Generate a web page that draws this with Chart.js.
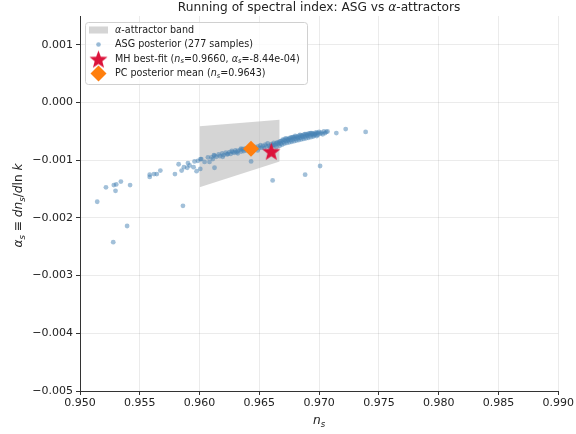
<!DOCTYPE html>
<html>
<head>
<meta charset="utf-8">
<script src="https://cdn.jsdelivr.net/npm/chart.js@4.4.1/dist/chart.umd.min.js"></script>
<style>
  html, body { margin: 0; padding: 0; background: #fff; }
  #wrap { width: 576px; height: 434px; }
</style>
</head>
<body>
<div id="wrap"><canvas id="myChart" width="576" height="434"></canvas></div>
<script>
// ---- data ----
// ASG posterior samples: [n_s, alpha_s]
const asgSamples = [
  [0.95144,-0.00172],[0.95217,-0.00147],[0.95278,-0.00242],[0.95283,-0.00143],[0.95303,-0.00142],
  [0.95297,-0.00153],[0.95342,-0.00137],[0.95394,-0.00214],[0.95419,-0.00143],[0.95583,-0.00125],
  [0.95583,-0.00129],[0.95619,-0.00124],[0.95642,-0.00124],[0.95672,-0.00118],[0.95794,-0.00124],
  [0.95825,-0.00107],[0.95861,-0.00179],[0.95850,-0.00118],[0.95869,-0.00112],[0.95897,-0.00113],
  [0.95903,-0.00105],[0.95917,-0.00109],[0.95950,-0.00112],[0.95958,-0.00102],[0.95975,-0.00119],
  [0.95986,-0.00101],[0.96006,-0.00115],[0.96008,-0.00098],[0.96014,-0.00098],[0.96042,-0.00103],
  [0.96070,-0.00095],[0.96083,-0.00103],[0.96111,-0.00098],[0.96125,-0.00113],[0.96125,-0.00092],
  [0.96194,-0.00094],[0.96236,-0.00089],[0.96278,-0.00086],[0.96319,-0.00084],[0.96347,-0.00080],
  [0.96431,-0.00102],[0.96486,-0.00083],[0.96611,-0.00135],[0.96883,-0.00125],[0.97008,-0.00110],
  [0.97144,-0.00053],[0.97222,-0.00046],[0.97389,-0.00051],
  [0.9610,-0.00095],[0.9612,-0.00091],[0.9614,-0.00094],[0.9616,-0.00090],[0.9617,-0.00093],
  [0.9619,-0.00088],[0.9620,-0.00091],[0.9622,-0.00087],[0.9623,-0.00090],[0.9625,-0.00086],
  [0.9626,-0.00089],[0.9627,-0.00084],[0.9629,-0.00087],[0.9630,-0.00083],[0.9631,-0.00086],
  [0.9632,-0.00088],[0.9634,-0.00082],[0.9635,-0.00085],[0.9636,-0.00081],[0.9637,-0.00084],
  [0.9638,-0.00080],[0.9639,-0.00083],[0.9641,-0.00079],[0.9642,-0.00082],[0.9644,-0.00078],
  [0.9645,-0.00081],[0.9646,-0.00077],[0.9647,-0.00080],[0.9649,-0.00076],[0.9650,-0.00079],
  [0.9651,-0.00074],[0.9652,-0.00078],[0.9653,-0.00075],[0.9654,-0.00079],[0.9655,-0.00073],
  [0.9656,-0.00076],[0.9657,-0.00071],[0.9658,-0.00075],[0.9659,-0.00078],[0.9660,-0.00072],
  [0.9661,-0.00075],[0.9662,-0.00070],[0.9663,-0.00074],[0.9664,-0.00077],[0.9665,-0.00069],
  [0.9666,-0.00072],[0.9667,-0.00068],[0.9667,-0.00075],[0.9668,-0.00071],[0.9669,-0.00066],
  [0.9669,-0.00073],[0.9670,-0.00069],[0.9671,-0.00065],[0.9671,-0.00071],[0.9672,-0.00067],
  [0.9673,-0.00070],[0.9673,-0.00063],[0.9674,-0.00066],[0.9675,-0.00069],[0.9675,-0.00062],
  [0.9676,-0.00065],[0.9677,-0.00068],[0.9677,-0.00061],[0.9678,-0.00064],[0.9679,-0.00067],
  [0.9679,-0.00060],[0.9680,-0.00063],[0.9681,-0.00066],[0.9681,-0.00059],[0.9682,-0.00062],
  [0.9683,-0.00065],[0.9683,-0.00058],[0.9684,-0.00061],[0.9685,-0.00064],[0.9685,-0.00057],
  [0.9686,-0.00060],[0.9687,-0.00063],[0.9687,-0.00056],[0.9688,-0.00059],[0.9689,-0.00062],
  [0.9689,-0.00055],[0.9690,-0.00058],[0.9691,-0.00061],[0.9691,-0.00054],[0.9692,-0.00057],
  [0.9693,-0.00060],[0.9693,-0.00053],[0.9694,-0.00056],[0.9695,-0.00059],[0.9695,-0.00054],
  [0.9696,-0.00057],[0.9697,-0.00052],[0.9697,-0.00055],[0.9698,-0.00058],[0.9699,-0.00053],
  [0.9699,-0.00056],[0.9700,-0.00051],[0.9701,-0.00054],[0.9702,-0.00052],[0.9703,-0.00055],
  [0.9704,-0.00050],[0.9705,-0.00053],[0.9706,-0.00051],[0.9707,-0.00050],
  [0.9666,-0.00070],[0.9668,-0.00067],[0.9670,-0.00064],[0.9672,-0.00062],[0.9674,-0.00064],
  [0.9676,-0.00061],[0.9678,-0.00060],[0.9680,-0.00058],[0.9682,-0.00060],[0.9684,-0.00056],
  [0.9686,-0.00058],[0.9688,-0.00055],[0.9690,-0.00056],[0.9692,-0.00054],[0.9694,-0.00053],
  [0.9696,-0.00055],[0.9698,-0.00052],[0.9664,-0.00071],[0.9662,-0.00073],[0.9660,-0.00075]
];

// alpha-attractor band (edges)
const bandNs    = [0.9600, 0.9667];
const bandUpper = [-0.00041, -0.00030];
const bandLower = [-0.00147, -0.00102];

// best-fit markers
const mhNs = 0.9660, mhAlpha = -0.000844;
const pcNs = 0.9643, pcAlpha = -0.00080;

const xRange = [0.950, 0.990];
const yRange = [-0.005, 0.0015];

const FONT = '"DejaVu Sans", "Liberation Sans", sans-serif';
const TXT = '#222';

// filled star marker (Chart.js 'star' is only strokes)
function makeStar(r, color) {
  const c = document.createElement('canvas');
  c.width = c.height = Math.ceil(r * 2 + 2);
  const g = c.getContext('2d');
  const cx = c.width / 2, cy = c.height / 2 + r * 0.1;
  g.beginPath();
  for (let k = 0; k < 10; k++) {
    const rad = k % 2 === 0 ? r : r * 0.42;
    const a = -Math.PI / 2 + k * Math.PI / 5;
    g.lineTo(cx + rad * Math.cos(a), cy + rad * Math.sin(a));
  }
  g.closePath();
  g.fillStyle = color;
  g.fill();
  return c;
}
const starImg = makeStar(9.5, '#dc143c');

// text with italic parts and subscripts: [text, ''|'i'|'s']
function drawRich(ctx, parts, x, y, size, align) {
  const fontFor = st => (st ? 'italic ' : '') + (st === 's' ? size * 0.7 : size) + 'px ' + FONT;
  let w = 0;
  parts.forEach(p => { ctx.font = fontFor(p[1]); w += ctx.measureText(p[0]).width; });
  let cx = align === 'center' ? x - w / 2 : x;
  ctx.textAlign = 'left';
  ctx.textBaseline = 'middle';
  parts.forEach(p => {
    ctx.font = fontFor(p[1]);
    ctx.fillText(p[0], cx, p[1] === 's' ? y + size * 0.28 : y);
    cx += ctx.measureText(p[0]).width;
  });
}

const decor = {
  id: 'decor',
  afterDraw(chart) {
    const ctx = chart.ctx;
    const ca = chart.chartArea;
    ctx.save();
    ctx.fillStyle = TXT;
    // title
    drawRich(ctx, [['Running of spectral index: ASG vs ', ''], ['α', 'i'], ['-attractors', '']],
      (ca.left + ca.right) / 2, 8, 12.2, 'center');
    // x label
    drawRich(ctx, [['n', 'i'], ['s', 's']], (ca.left + ca.right) / 2, 421, 12.2, 'center');
    // y label
    ctx.save();
    ctx.translate(19, (ca.top + ca.bottom) / 2 + 2);
    ctx.rotate(-Math.PI / 2);
    drawRich(ctx, [['α', 'i'], ['s', 's'], [' ≡ ', ''], ['dn', 'i'], ['s', 's'], ['/', ''],
      ['d', 'i'], ['ln', ''], [' k', 'i']], 0, 0, 12.2, 'center');
    ctx.restore();

    // legend
    const lx = 85, ly = 22, lw = 222, lh = 62;
    ctx.beginPath();
    ctx.roundRect(lx + 0.5, ly + 0.5, lw, lh, 3);
    ctx.fillStyle = 'rgba(255,255,255,0.8)';
    ctx.fill();
    ctx.strokeStyle = '#d0d0d0';
    ctx.lineWidth = 1;
    ctx.stroke();

    const rows = [ly + 8, ly + 22.5, ly + 37, ly + 51.5];
    const hx = lx + 12, tx = lx + 30;
    // band patch
    ctx.fillStyle = 'rgba(185,185,185,0.6)';
    ctx.fillRect(hx - 8, rows[0] - 3.5, 19, 7);
    // asg dot
    ctx.beginPath();
    ctx.arc(hx + 1.5, rows[1], 2.3, 0, Math.PI * 2);
    ctx.fillStyle = 'rgba(70,130,180,0.55)';
    ctx.fill();
    // star
    ctx.drawImage(starImg, hx + 1.5 - starImg.width / 2, rows[2] - starImg.height / 2);
    // diamond
    ctx.beginPath();
    ctx.moveTo(hx + 1.5, rows[3] - 8);
    ctx.lineTo(hx + 9.5, rows[3]);
    ctx.lineTo(hx + 1.5, rows[3] + 8);
    ctx.lineTo(hx - 6.5, rows[3]);
    ctx.closePath();
    ctx.fillStyle = '#ff7f0e';
    ctx.fill();

    ctx.fillStyle = TXT;
    const fs = 9.6;
    drawRich(ctx, [['α', 'i'], ['-attractor band', '']], tx, rows[0], fs);
    drawRich(ctx, [['ASG posterior (' + asgSamplesCount + ' samples)', '']], tx, rows[1], fs);
    drawRich(ctx, [['MH best-fit (', ''], ['n', 'i'], ['s', 's'], ['=' + mhNs.toFixed(4) + ', ', ''],
      ['α', 'i'], ['s', 's'], ['=' + mhAlpha.toExponential(2).replace('e-', 'e-0') + ')', '']], tx, rows[2], fs);
    drawRich(ctx, [['PC posterior mean (', ''], ['n', 'i'], ['s', 's'], ['=' + pcNs.toFixed(4) + ')', '']], tx, rows[3], fs);
    ctx.restore();
  }
};

const asgSamplesCount = 277;

const ctx = document.getElementById('myChart');

new Chart(ctx, {
  type: 'scatter',
  data: {
    datasets: [
      {
        label: 'MH best-fit',
        data: [{x: mhNs, y: mhAlpha}],
        pointStyle: starImg,
        pointRadius: 10
      },
      {
        label: 'PC posterior mean',
        data: [{x: pcNs, y: pcAlpha}],
        pointStyle: 'rectRot',
        pointRadius: 8,
        backgroundColor: '#ff7f0e',
        borderWidth: 0
      },
      {
        label: 'ASG posterior',
        data: asgSamples.map(p => ({x: p[0], y: p[1]})),
        pointRadius: 2.4,
        backgroundColor: 'rgba(70,130,180,0.5)',
        borderWidth: 0
      },
      {
        label: 'band upper',
        type: 'line',
        data: bandNs.map((v, i) => ({x: v, y: bandUpper[i]})),
        pointRadius: 0,
        borderWidth: 0,
        borderColor: 'rgba(0,0,0,0)',
        fill: false
      },
      {
        label: 'band lower',
        type: 'line',
        data: bandNs.map((v, i) => ({x: v, y: bandLower[i]})),
        pointRadius: 0,
        borderWidth: 0,
        borderColor: 'rgba(0,0,0,0)',
        backgroundColor: 'rgba(185,185,185,0.6)',
        fill: '-1'
      }
    ]
  },
  options: {
    responsive: false,
    animation: false,
    layout: { padding: { top: 16, right: 16, left: 0, bottom: 0 } },
    plugins: {
      legend: { display: false },
      tooltip: { enabled: false }
    },
    scales: {
      x: {
        type: 'linear',
        min: xRange[0],
        max: xRange[1],
        afterFit: s => { s.height = 43; },
        ticks: {
          stepSize: 0.005,
          color: TXT,
          font: { family: FONT, size: 11 },
          padding: 2,
          maxRotation: 0,
          callback: v => v.toFixed(3)
        },
        grid: { color: 'rgba(0,0,0,0.08)', tickColor: '#333', tickLength: 4 },
        border: { color: '#333', width: 1 }
      },
      y: {
        type: 'linear',
        min: yRange[0],
        max: yRange[1],
        afterFit: s => { s.width = 80; },
        afterBuildTicks: s => {
          s.ticks = [];
          for (let k = -5; k <= 1; k++) s.ticks.push({ value: k / 1000 });
        },
        ticks: {
          color: TXT,
          font: { family: FONT, size: 11 },
          padding: 3,
          callback: v => v.toFixed(3).replace('-', '\u2212')
        },
        grid: { color: 'rgba(0,0,0,0.08)', tickColor: '#333', tickLength: 4 },
        border: { color: '#333', width: 1 }
      }
    }
  },
  plugins: [decor]
});
</script>
</body>
</html>
